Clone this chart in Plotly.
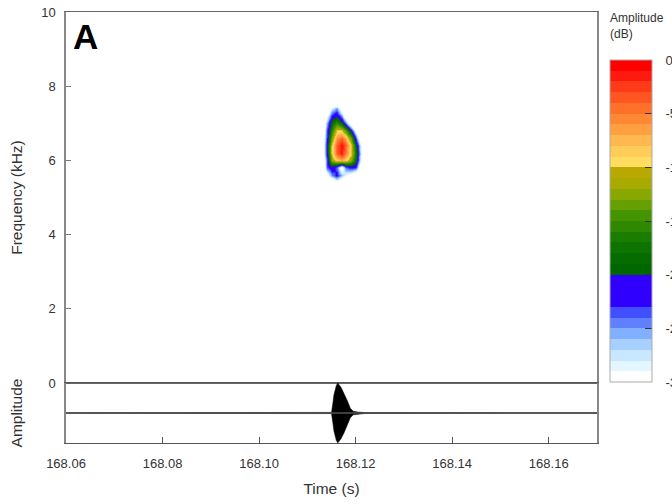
import plotly.graph_objects as go

FONT = "Liberation Sans, Arial, sans-serif"
TXT = "#333333"

spec_times = [168.112, 168.113, 168.114, 168.115, 168.116, 168.117, 168.118, 168.119, 168.120, 168.121, 168.122, 168.123]
spec_freqs = [5.2, 5.4, 5.6, 5.8, 6.0, 6.2, 6.4, 6.6, 6.8, 7.0, 7.2, 7.4, 7.6]
spec_db = [
    [-40, -40, -40, -40, -40, -40, -40, -40, -40, -40, -40, -40],
    [-40, -40, -40, -36, -31, -35, -40, -40, -40, -40, -40, -40],
    [-40, -40, -31, -25, -22, -26, -29, -31, -34, -40, -40, -40],
    [-40, -40, -24, -21, -24, -32, -24, -22, -23, -33, -40, -40],
    [-40, -36, -24, -12, -9, -7, -9, -12, -18, -29, -40, -40],
    [-40, -34, -22, -10, -4, -1.5, -5, -9, -17, -28, -40, -40],
    [-40, -34, -22, -10, -4, -1, -4, -9, -18, -29, -40, -40],
    [-40, -35, -23, -13, -6, -4, -7, -13, -23, -34, -40, -40],
    [-40, -36, -24, -16, -10, -10, -14, -21, -31, -38, -40, -40],
    [-40, -38, -26, -18, -15, -18, -24, -32, -38, -40, -40, -40],
    [-40, -40, -30, -22, -20, -25, -32, -40, -40, -40, -40, -40],
    [-40, -40, -36, -28, -25, -32, -40, -40, -40, -40, -40, -40],
    [-40, -40, -40, -40, -36, -40, -40, -40, -40, -40, -40, -40],
]

band_colors = [
    "#ffffff", "#e4f6ff", "#c8e8ff", "#a8d0ff", "#80b0ff", "#6080ff", "#4050ff",
    "#3000ff", "#3000ff", "#3000ff",
    "#006600", "#066c00", "#0d7400", "#1a7d00", "#2f8800", "#449400", "#66a000", "#88a800", "#a8aa00", "#b8a800",
    "#ffdd60", "#ffcc58", "#ffb850", "#ffa040", "#ff8835", "#ff7028", "#ff5520", "#ff3a18", "#ff1a10", "#ff0000",
]
bar_ticks = [0, -5, -10, -15, -20, -25, -30]

wave_times = [168.06, 168.1150, 168.1153, 168.1155, 168.1160, 168.1163, 168.1170, 168.1176, 168.1183, 168.1189, 168.1195, 168.1205, 168.122, 168.17]
wave_env = [0.01, 0.02, 0.35, 0.6, 0.92, 1.0, 0.85, 0.66, 0.4, 0.16, 0.06, 0.03, 0.015, 0.01]
wave_center = -0.8
wave_half = 0.8

freq_ticks = [0, 2, 4, 6, 8, 10]
time_ticks = [168.06, 168.08, 168.10, 168.12, 168.14, 168.16]
time_labels = ["168.06", "168.08", "168.10", "168.12", "168.14", "168.16"]

n = len(band_colors)
cs = []
for i, c in enumerate(band_colors):
    cs.append([i / n, c])
    cs.append([(i + 1) / n, c])

W, H = 672, 504
L, R, T, B = 66, 597, 12, 443
Y0 = 383
pw, ph = R - L, B - T

fig = go.Figure()
fig.add_trace(go.Heatmap(
    x=spec_times, y=spec_freqs, z=spec_db, zmin=-30, zmax=0, zsmooth="best",
    colorscale=cs, xaxis="x", yaxis="y", hoverinfo="skip",
    colorbar=dict(
        xref="paper", yref="paper",
        x=(610 - L) / pw, xanchor="left",
        y=(B - 60) / ph, yanchor="top",
        lenmode="pixels", len=322, thicknessmode="pixels", thickness=42,
        xpad=0, ypad=0,
        outlinecolor="#aaaaaa", outlinewidth=1,
        tickmode="array", tickvals=bar_ticks,
        ticktext=["\u00a0\u00a0\u2009" + str(v) for v in bar_ticks],
        ticks="inside", ticklen=7, tickcolor="#333333", tickwidth=1,
        tickfont=dict(family=FONT, size=13, color=TXT),
    ),
))
upper = [wave_center + wave_half * v for v in wave_env]
lower = [wave_center - wave_half * v for v in wave_env]
fig.add_trace(go.Scatter(
    x=wave_times + wave_times[::-1], y=upper + lower[::-1], mode="lines",
    fill="toself", fillcolor="#000000", line=dict(color="#000000", width=0.5),
    xaxis="x2", yaxis="y2", hoverinfo="skip", showlegend=False,
))
fig.add_trace(go.Scatter(
    x=[wave_times[0], wave_times[-1]], y=[wave_center, wave_center], mode="lines",
    line=dict(color="#555555", width=1.5),
    xaxis="x2", yaxis="y2", hoverinfo="skip", showlegend=False,
))

axfont = dict(family=FONT, size=13, color=TXT)
titlefont = dict(family=FONT, size=15.5, color=TXT)
fig.update_layout(
    width=W, height=H, paper_bgcolor="white", plot_bgcolor="white", showlegend=False,
    margin=dict(l=L, r=W - R, t=T, b=H - B, autoexpand=False),
    font=axfont,
    xaxis=dict(domain=[0, 1], range=[168.06, 168.17], anchor="y", showticklabels=False,
               ticks="", showgrid=False, zeroline=False, showline=True, mirror=True,
               linecolor="#666666", linewidth=1),
    yaxis=dict(domain=[(B - Y0) / ph, 1], range=[0, 10], anchor="x", tickmode="array",
               tickvals=freq_ticks, ticks="inside", ticklen=5, tickcolor="#777777",
               showgrid=False, zeroline=False, showline=True, mirror=True,
               linecolor="#888888", linewidth=1.5, tickfont=axfont, ticklabelstandoff=6,
               title=dict(text="Frequency (kHz)", font=titlefont, standoff=15)),
    xaxis2=dict(domain=[0, 1], range=[168.06, 168.17], anchor="y2", tickmode="array",
                tickvals=time_ticks, ticktext=time_labels, ticks="inside", ticklen=6,
                tickcolor="#555555", showgrid=False, zeroline=False, showline=True,
                mirror=True, linecolor="#555555", linewidth=1, tickfont=axfont,
                ticklabelstandoff=8,
                title=dict(text="Time (s)", font=titlefont, standoff=13)),
    yaxis2=dict(domain=[0, (B - Y0) / ph], range=[-1.6, 0], anchor="x2", tickmode="array",
                tickvals=[0], ticktext=[""], ticks="", showgrid=False, zeroline=False,
                showline=True, mirror=True, linecolor="#888888", linewidth=1.5,
                title=dict(text="Amplitude", font=titlefont, standoff=35)),
    annotations=[
        dict(text="<b>A</b>", xref="paper", yref="paper", x=(73 - L) / pw, y=(B - 36) / ph,
             xanchor="left", yanchor="middle", showarrow=False, xshift=-2,
             font=dict(family=FONT, size=35, color="#000000")),
        dict(text="Amplitude<br>(dB)", xref="paper", yref="paper", x=(610 - L) / pw, y=(B - 9) / ph,
             xanchor="left", yanchor="top", align="left", showarrow=False, xshift=-2,
             font=dict(family=FONT, size=12, color=TXT)),
    ],
)
fig.write_html("out.html", config={"displayModeBar": False},
               post_script="document.body.style.margin='0';document.documentElement.style.overflow='hidden';")
